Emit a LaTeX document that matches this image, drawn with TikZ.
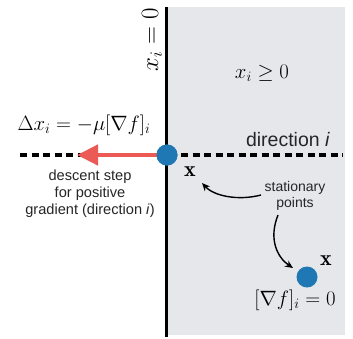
\documentclass[tikz,border=0pt]{standalone}
\usepackage{fontspec}
\usetikzlibrary{arrows.meta}
\newfontfamily\helv{Liberation Sans}
\definecolor{regiongray}{RGB}{230,231,235}
\definecolor{dotblue}{RGB}{31,119,180}
\definecolor{arrowred}{RGB}{236,90,85}
\begin{document}
\begin{tikzpicture}[x=1pt,y=-1pt,
  mathlbl/.style={inner sep=0pt,font=\fontsize{22}{26}\selectfont},
  sanslbl/.style={inner sep=0pt,align=center,text=black!85},
  dotnode/.style={circle,fill=dotblue,inner sep=0pt,minimum size=21pt},
  curvedarrow/.style={line width=1.4pt,-{Stealth[length=8pt,width=7pt]}}]
\useasboundingbox (0,0) rectangle (353,338);
\fill[white] (0,0) rectangle (353,338);
% feasible region
\fill[regiongray] (167,7) rectangle (345,335);
\draw[line width=3pt] (166,7) -- (166,337);
% dashed direction line
\coordinate (dl) at (20,155);
\coordinate (dr) at (343,155);
\draw[line width=3.3pt,dash pattern=on 7pt off 4.5pt] (dl) -- (dr);
% descent step arrow
\coordinate (tip) at (77,155);
\node[dotnode] (p1) at (167,155) {};
\draw[arrowred,line width=4.5pt,-{Triangle[length=21pt,width=20pt]}] (p1.center) -- (tip);
\node[dotnode] (p1b) at (167,155) {};
\node[dotnode] (p2) at (307,277) {};
% labels
\node[mathlbl,rotate=90,font=\fontsize{24.5}{28}\selectfont] (xeq) at (152,40) {$x_i = 0$};
\node[mathlbl] (xge) at (262,73) {$x_i \geq 0$};
\node[mathlbl] (dx) at (84,125) {$\Delta x_i = -\mu[\nabla f]_i$};
\node[sanslbl,font=\helv\fontsize{19.5}{22}\selectfont] (dir) at (288,140) {direction \textit{i}};
\node[sanslbl,font=\helv\fontsize{14.6}{17}\selectfont] (desc) at (90,194) {descent step\\for positive\\gradient (direction \textit{i})};
\node[mathlbl] (bx1) at (190,172) {$\mathbf{x}$};
\node[mathlbl] (bx2) at (326,261) {$\mathbf{x}$};
\node[mathlbl] (grad) at (295,300) {$[\nabla f]_i = 0$};
\node[sanslbl,font=\helv\fontsize{14}{16}\selectfont] (stat) at (295,196) {stationary\\points};
% curved arrows
\coordinate (s1) at (261,195);
\coordinate (e1) at (202,183);
\coordinate (s2) at (278,215);
\coordinate (e2) at (293,268);
\draw[curvedarrow] (s1) .. controls (238,201) and (214,196) .. (e1);
\draw[curvedarrow] (s2) .. controls (268,240) and (278,258) .. (e2);
\end{tikzpicture}
\end{document}
